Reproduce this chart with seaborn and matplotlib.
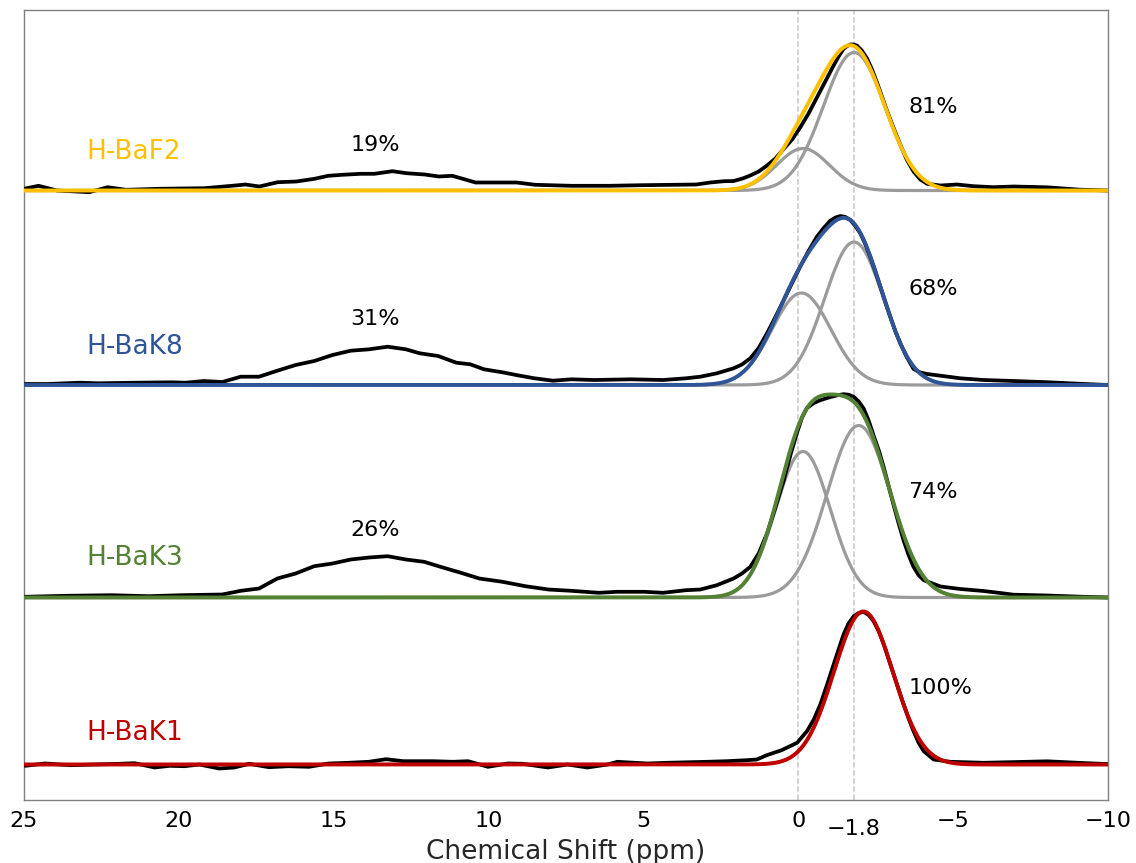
import numpy as np
import pandas as pd
import matplotlib
matplotlib.use("Agg")
import matplotlib.pyplot as plt
import seaborn as sns

# ---------------------------------------------------------------- data
samples = ["H-BaF2", "H-BaK8", "H-BaK3", "H-BaK1"]
sample_colors = ["#FFC000", "#2F5597", "#548235", "#C00000"]
baselines = [609.5, 415.0, 202.5, 35.5]          # vertical offset of each trace (a.u.)

# measured 1H spectra: chemical shift (ppm) and intensity above the baseline (a.u.)
baf2_ppm = [25.0, 24.53, 23.93, 22.89, 22.30, 21.71, 20.67, 19.18, 18.29, 17.85, 17.40,
            16.81, 16.21, 15.62, 15.18, 14.73, 14.14, 13.69, 13.10, 12.65, 12.06, 11.61,
            11.17, 10.72, 10.42, 9.09, 8.49, 7.31, 6.12, 5.08, 3.30, 2.85, 2.40, 2.09,
            1.80, 1.55, 1.28, 1.01, 0.74, 0.47, 0.20, -0.06, -0.33, -0.60, -0.87, -1.14,
            -1.30, -1.46, -1.58, -1.68, -1.78, -1.89, -2.05, -2.22, -2.38, -2.54, -2.70,
            -2.86, -3.07, -3.29, -3.50, -3.72, -3.94, -4.16, -4.59, -5.12, -5.66, -6.31,
            -6.95, -8.03, -9.10, -10.0]
baf2_int = [1.7, 4.7, 0.0, -1.7, 3.3, 0.7, 1.7, 2.3, 4.7, 6.0, 4.0,
            8.3, 9.0, 11.7, 14.7, 15.7, 16.7, 16.7, 19.3, 17.3, 16.0, 14.0,
            14.7, 10.7, 8.0, 8.0, 5.7, 4.7, 4.7, 5.3, 6.0, 8.0, 9.3, 9.5,
            12.0, 15.0, 19.0, 25.0, 32.0, 41.7, 51.0, 63.0, 77.0, 93.0, 109.0, 125.0,
            134.0, 141.7, 144.5, 146.0, 146.0, 145.0, 140.0, 132.0, 121.0, 108.0, 94.0,
            80.0, 63.0, 46.0, 31.0, 19.0, 11.0, 6.7, 5.0, 6.0, 4.3, 3.3,
            4.0, 3.2, 0.8, 0.0]

bak8_ppm = [24.97, 24.23, 23.19, 22.60, 21.41, 20.23, 19.78, 19.19, 18.60, 18.00, 17.41,
            16.82, 16.23, 15.63, 15.04, 14.45, 13.86, 13.26, 12.67, 12.22, 11.63, 11.04,
            10.59, 10.15, 9.55, 9.11, 8.52, 7.92, 7.33, 6.59, 5.41, 4.37, 3.63, 3.16,
            2.63, 2.09, 1.82, 1.55, 1.28, 1.01, 0.74, 0.47, 0.20, -0.06, -0.33, -0.60,
            -0.82, -1.03, -1.20, -1.36, -1.52, -1.68, -1.84, -2.00, -2.16, -2.32, -2.48,
            -2.65, -2.81, -2.97, -3.13, -3.29, -3.50, -3.72, -3.94, -4.16, -4.59, -5.23,
            -5.98, -6.95, -8.03, -9.10, -10.0]
bak8_int = [1.0, 1.0, 2.3, 1.7, 2.3, 2.7, 2.3, 4.0, 3.0, 8.3, 8.3,
            14.3, 20.0, 24.0, 30.0, 34.3, 35.7, 38.3, 35.7, 31.7, 29.0, 22.3,
            20.7, 15.7, 12.7, 10.0, 6.7, 4.3, 5.7, 5.0, 5.7, 5.0, 6.7, 8.3,
            11.7, 16.7, 20.5, 26.7, 37.0, 51.7, 68.0, 85.0, 102.0, 118.3, 134.0, 148.3,
            157.0, 164.3, 167.5, 169.0, 168.0, 165.0, 159.0, 151.7, 141.0, 128.3, 114.0,
            98.3, 83.0, 68.3, 54.0, 41.7, 28.0, 16.0, 12.5, 11.0, 9.3, 6.7,
            5.0, 4.0, 2.8, 1.2, 0.0]

bak3_ppm = [24.97, 23.64, 22.16, 20.97, 19.93, 18.60, 18.00, 17.41, 16.82, 16.23, 15.63,
            15.04, 14.45, 13.86, 13.26, 12.67, 12.08, 11.48, 10.89, 10.30, 9.55, 8.81,
            8.07, 7.33, 6.44, 5.85, 4.96, 4.37, 3.63, 3.16, 2.63, 2.09, 1.82, 1.55,
            1.28, 1.01, 0.74, 0.47, 0.25, 0.04, -0.12, -0.28, -0.50, -0.71, -0.93,
            -1.14, -1.30, -1.46, -1.62, -1.79, -1.95, -2.11, -2.27, -2.43, -2.60, -2.76,
            -2.92, -3.08, -3.24, -3.40, -3.56, -3.72, -3.88, -4.05, -4.59, -5.23, -5.98,
            -6.52, -6.95, -8.03, -9.10, -10.0]
bak3_int = [0.7, 1.7, 2.3, 1.3, 2.3, 3.0, 6.7, 9.0, 19.0, 24.0, 31.3,
            34.0, 38.0, 40.0, 41.3, 38.0, 35.7, 30.0, 24.7, 19.0, 15.7, 11.3,
            8.0, 6.7, 4.7, 5.7, 5.7, 4.7, 7.3, 8.0, 12.3, 19.0, 24.0, 30.7,
            44.0, 64.0, 90.0, 117.3, 143.0, 165.0, 180.0, 189.5, 194.5, 197.3, 199.5,
            201.3, 202.5, 203.3, 202.8, 200.7, 196.0, 189.0, 177.0, 162.0, 147.0, 130.0,
            111.0, 92.0, 74.0, 57.0, 42.5, 30.7, 22.5, 17.3, 11.0, 8.5, 6.5,
            4.5, 2.8, 2.0, 0.8, 0.0]

bak1_ppm = [24.96, 24.32, 23.51, 22.71, 21.91, 21.43, 20.78, 20.30, 19.82, 19.34, 18.70,
            18.21, 17.73, 17.09, 16.45, 15.80, 15.16, 14.52, 13.87, 13.31, 12.75, 11.79,
            11.15, 10.66, 10.02, 9.38, 8.90, 8.09, 7.45, 6.81, 6.16, 5.84, 4.88, 4.24,
            2.95, 2.31, 1.67, 1.34, 1.02, 0.54, 0.04, -0.28, -0.50, -0.71, -0.93, -1.14,
            -1.30, -1.46, -1.62, -1.79, -1.95, -2.11, -2.27, -2.43, -2.60, -2.76, -2.92,
            -3.08, -3.24, -3.40, -3.56, -3.72, -3.88, -4.05, -4.37, -4.91, -5.98, -6.95,
            -8.03, -9.10, -10.0]
bak1_int = [-1.3, 1.0, -0.7, 0.0, 0.7, 1.3, -3.0, -1.3, -1.7, 0.0, -4.0,
            -3.0, 0.7, -2.7, -1.7, -2.3, 1.0, 1.7, 2.7, 5.3, 3.3, 3.3,
            2.7, 3.3, -2.3, 1.0, 0.7, -3.0, 0.0, -3.0, 0.0, 2.7, 1.0, 1.7,
            2.7, 3.3, 4.3, 5.0, 9.3, 14.3, 21.7, 33.3, 45.0, 60.0, 80.0, 100.0,
            115.0, 130.0, 141.0, 148.3, 151.5, 152.7, 149.5, 143.3, 133.0, 120.0, 105.0,
            90.0, 75.0, 60.0, 46.0, 33.3, 22.0, 13.3, 5.0, 2.7, 1.7, 2.4,
            3.2, 1.6, 0.4]

# fitted Gaussian components per sample: (centre ppm, amplitude a.u., sigma ppm)
baf2_fit = [(-1.80, 138.0, 1.00), (-0.15, 42.0, 0.85)]
bak8_fit = [(-1.80, 143.0, 0.95), (-0.10, 92.0, 0.95)]
bak3_fit = [(-1.95, 172.0, 1.02), (-0.15, 146.0, 0.88)]
bak1_fit = [(-2.10, 153.0, 0.95)]

# relative areas of the broad (~13 ppm) and narrow (0 to -2 ppm) signals
broad_share = ["19%", "31%", "26%", ""]
narrow_share = ["81%", "68%", "74%", "100%"]

# reference lines and tick positions (ppm)
ref_shifts = [0.0, -1.8]
major_ticks = [25, 20, 15, 10, 5, 0, -5, -10]

# ---------------------------------------------------------------- layout
label_y = [648, 453, 242, 67]
broad_y = [655, 481, 270, 0]
narrow_y = [693, 511, 308, 112]
label_x, broad_x, narrow_x = 23.0, 13.66, -3.55

spectra = [(baf2_ppm, baf2_int, baf2_fit), (bak8_ppm, bak8_int, bak8_fit),
           (bak3_ppm, bak3_int, bak3_fit), (bak1_ppm, bak1_int, bak1_fit)]


def gaussian(x, centre, amp, sigma):
    return amp * np.exp(-(x - centre) ** 2 / (2.0 * sigma ** 2))


sns.set_theme(style="white")
plt.rcParams["font.family"] = ["DejaVu Sans"]

fig = plt.figure(figsize=(11.36, 8.63), dpi=100)
ax = fig.add_axes([0.0211, 0.073, 0.9543, 0.9154])

grid = np.linspace(25, -10, 1500)

for ref in ref_shifts:
    ax.axvline(ref, color="#c8c8c8", ls="--", lw=1.1, zorder=0)

for i, (ppm, inten, comps) in enumerate(spectra):
    base = baselines[i]
    total = np.zeros_like(grid)
    for centre, amp, sigma in comps:
        g = gaussian(grid, centre, amp, sigma)
        total += g
        sns.lineplot(x=grid, y=base + g, color="#9b9b9b", lw=2.3, ax=ax,
                     sort=False, estimator=None, zorder=2)
    meas = pd.DataFrame({"ppm": ppm, "intensity": np.asarray(inten) + base})
    sns.lineplot(data=meas, x="ppm", y="intensity", color="black", lw=2.7, ax=ax,
                 sort=False, estimator=None, zorder=3)
    sns.lineplot(x=grid, y=base + total, color=sample_colors[i], lw=2.8, ax=ax,
                 sort=False, estimator=None, zorder=4)

    ax.text(label_x, label_y[i], samples[i], color=sample_colors[i], fontsize=19,
            ha="left", va="center")
    if broad_share[i]:
        ax.text(broad_x, broad_y[i], broad_share[i], color="black", fontsize=16,
                ha="center", va="center")
    ax.text(narrow_x, narrow_y[i], narrow_share[i], color="black", fontsize=16,
            ha="left", va="center")

ax.set_xlim(25, -10)
ax.set_ylim(0, 790)
ax.set_yticks([])
ax.set_ylabel("")
ax.set_xticks(major_ticks)
ax.set_xticks([ref_shifts[1]], ["\u22121.8"], minor=True)
ax.tick_params(axis="x", which="major", length=0, pad=8, labelsize=16, colors="black")
ax.tick_params(axis="x", which="minor", length=0, pad=13.5, labelsize=16, colors="black")
ax.set_xlabel("Chemical Shift (ppm)", fontsize=19, labelpad=0)

for side in ["top", "bottom", "left", "right"]:
    ax.spines[side].set_color("#808080")
    ax.spines[side].set_linewidth(1.0)

fig.savefig("out.png", dpi=100)
